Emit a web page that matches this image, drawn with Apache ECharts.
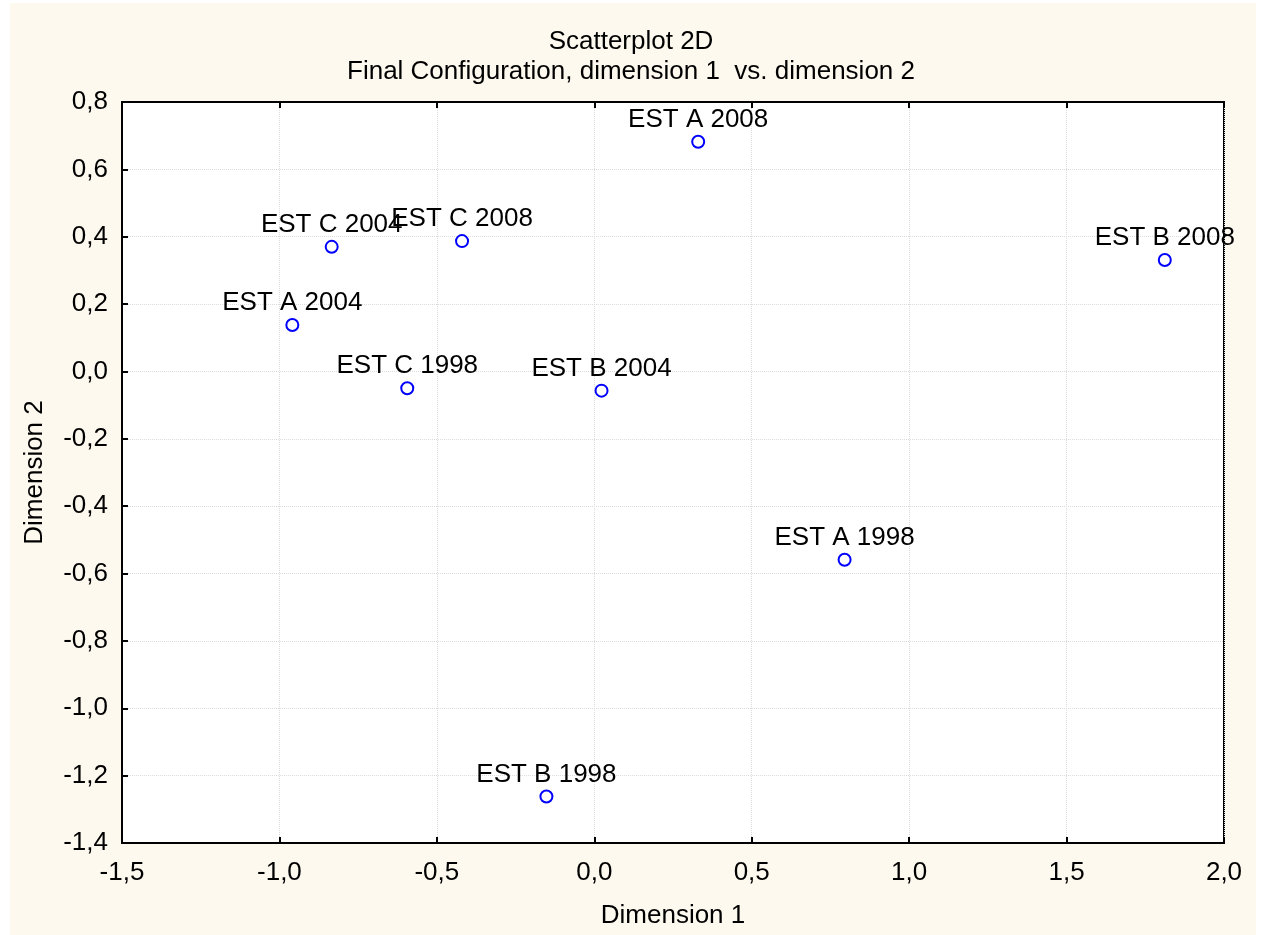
<!DOCTYPE html>
<html>
<head>
<meta charset="utf-8">
<script src="https://cdn.jsdelivr.net/npm/echarts@6/dist/echarts.min.js"></script>
<style>
html,body{margin:0;padding:0;background:#ffffff;}
#chart{width:1262px;height:935px;}
</style>
</head>
<body>
<div id="chart"></div>
<script>
var titleLines = ['Scatterplot 2D', 'Final Configuration, dimension 1  vs. dimension 2'];
var xName = 'Dimension 1';
var yName = 'Dimension 2';
var labels = ['EST A 1998','EST B 1998','EST C 1998','EST A 2004','EST B 2004','EST C 2004','EST A 2008','EST B 2008','EST C 2008'];
var dim1 = [0.795, -0.152, -0.594, -0.959, 0.023, -0.834, 0.330, 1.812, -0.420];
var dim2 = [-0.559, -1.262, -0.050, 0.138, -0.057, 0.370, 0.682, 0.331, 0.387];
var xMin = -1.5, xMax = 2.0, xStep = 0.5;
var yMin = -1.4, yMax = 0.8, yStep = 0.2;

var FONT = '"Liberation Sans", Arial, sans-serif';
var data = labels.map(function(l, i){ return {name: l, value: [dim1[i], dim2[i]]}; });
function fmt(v){ return v.toFixed(1).replace('.', ','); }

var chart = echarts.init(document.getElementById('chart'), null, {renderer:'canvas'});
chart.setOption({
  backgroundColor: '#ffffff',
  animation: false,
  graphic: [{
    type: 'rect', z: -10, silent: true,
    shape: {x: 10, y: 3, width: 1246, height: 932},
    style: {fill: '#FDF9EF'}
  }],
  title: [
    {text: titleLines[0], left: 'center', top: 24, textStyle: {fontFamily: FONT, fontSize: 26, fontWeight: 'normal', color: '#000'}},
    {text: titleLines[1], left: 'center', top: 54, textStyle: {fontFamily: FONT, fontSize: 26, fontWeight: 'normal', color: '#000'}}
  ],
  grid: {left: 122, top: 102, right: 38, bottom: 92, show: true, backgroundColor: '#ffffff', borderColor: '#000', borderWidth: 2},
  xAxis: [{
    type: 'value', min: xMin, max: xMax, interval: xStep,
    name: xName, nameLocation: 'middle', nameGap: 60,
    nameTextStyle: {fontFamily: FONT, fontSize: 26, color: '#000'},
    axisLine: {show: true, onZero: false, lineStyle: {color: '#000', width: 2}},
    axisTick: {show: true, inside: true, length: 6, lineStyle: {color: '#000', width: 2}},
    axisLabel: {formatter: fmt, fontFamily: FONT, fontSize: 26, color: '#000', margin: 17},
    splitLine: {show: true, lineStyle: {color: '#dcdcdc', type: 'dotted', width: 1}}
  },{
    type: 'value', position: 'top', min: xMin, max: xMax, interval: xStep,
    axisLine: {show: true, onZero: false, lineStyle: {color: '#000', width: 2}},
    axisTick: {show: true, inside: true, length: 6, lineStyle: {color: '#000', width: 2}},
    axisLabel: {show: false},
    splitLine: {show: false}
  }],
  yAxis: {
    type: 'value', min: yMin, max: yMax, interval: yStep,
    name: yName, nameLocation: 'middle', nameGap: 74, nameRotate: 90,
    nameTextStyle: {fontFamily: FONT, fontSize: 26, color: '#000'},
    axisLine: {show: true, onZero: false, lineStyle: {color: '#000', width: 2}},
    axisTick: {show: true, inside: true, length: 6, lineStyle: {color: '#000', width: 2}},
    axisLabel: {formatter: fmt, fontFamily: FONT, fontSize: 26, color: '#000', margin: 14},
    splitLine: {show: true, lineStyle: {color: '#dcdcdc', type: 'dotted', width: 1}}
  },
  series: [{
    type: 'scatter',
    xAxisIndex: 0,
    data: data,
    symbol: 'emptyCircle',
    symbolSize: 12,
    itemStyle: {color: '#0000ff', borderColor: '#0000ff', borderWidth: 2, opacity: 1},
    label: {show: true, position: 'top', distance: 2, formatter: '{b}', fontFamily: FONT, fontSize: 26, color: '#000'},
    labelLayout: {hideOverlap: false},
    clip: false,
    z: 5
  }]
});
</script>
</body>
</html>
